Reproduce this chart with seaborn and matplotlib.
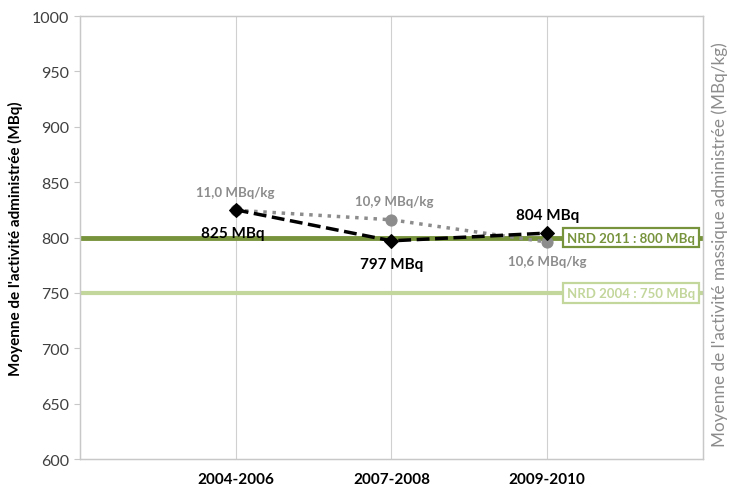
import numpy as np
import pandas as pd
import matplotlib
matplotlib.use("Agg")
import matplotlib.pyplot as plt
import seaborn as sns

# data
PERIODS = ["2004-2006", "2007-2008", "2009-2010"]
ACTIVITY_MBQ = [825, 797, 804]
ACTIVITY_MBQ_KG = [11.03, 10.91, 10.63]
NRD_2011 = 800
NRD_2004 = 750

BLACK = "#000000"
GREY = "#8c8c8c"
GREEN_DARK = "#77933c"
GREEN_LIGHT = "#c3d69b"
AXIS_GREY = "#c8c8c8"
TEXT_GREY = "#404040"

sns.set_style("white")
plt.rcParams["font.family"] = ["Lato", "DejaVu Sans"]

df = pd.DataFrame({
    "pos": np.arange(len(PERIODS)),
    "period": PERIODS,
    "mbq": ACTIVITY_MBQ,
    "mbq_kg": ACTIVITY_MBQ_KG,
})

fig = plt.figure(figsize=(7.31, 4.89), dpi=100)
ax = fig.add_axes([0.1094, 0.0593, 0.8523, 0.9059])
ax2 = ax.twinx()

# vertical gridlines at each period (bottom layer)
for x in df["pos"]:
    ax2.axvline(x, color="#d0d0d0", linewidth=0.8, zorder=0)

# reference levels, drawn under the grey series (in MBq units of the left axis)
ytrans = ax.get_yaxis_transform()
ax2.plot([0, 1], [NRD_2011, NRD_2011], transform=ytrans, color=GREEN_DARK,
         linewidth=3.5, zorder=1)
ax2.plot([0, 1], [NRD_2004, NRD_2004], transform=ytrans, color=GREEN_LIGHT,
         linewidth=3.0, zorder=1)

# secondary series (MBq/kg), no tick labels on the right
sns.lineplot(data=df, x="pos", y="mbq_kg", ax=ax2, color=GREY, linestyle=":",
             linewidth=2.5, marker="o", markersize=8, markeredgecolor=GREY,
             zorder=3)
ax2.set_ylim(7.91, 7.91 + 400 / 72)

# main series (MBq)
sns.lineplot(data=df, x="pos", y="mbq", ax=ax, color=BLACK, linestyle="--",
             linewidth=2.5, marker="D", markersize=7.5, markeredgecolor=BLACK,
             zorder=5)

ax.set_zorder(ax2.get_zorder() + 1)
ax.patch.set_visible(False)

ax.set_xlim(-1, 3)
ax.set_ylim(600, 1000)
ax.set_yticks(range(600, 1001, 50))
ax.set_xticks(df["pos"])
ax.set_xticklabels(PERIODS, fontweight="bold", fontsize=11, color=BLACK)
ax.tick_params(axis="x", length=0, pad=9)
ax.tick_params(axis="y", length=4, width=0.8, color=AXIS_GREY,
               labelsize=11.5, labelcolor=TEXT_GREY, pad=4, left=True)
ax.grid(False)
ax2.grid(False)
for a in (ax, ax2):
    for s in a.spines.values():
        s.set_color(AXIS_GREY)
        s.set_linewidth(0.9)
ax2.set_yticks([])
ax.set_xlabel("")
ax.set_ylabel("Moyenne de l'activité administrée (MBq)", fontweight="bold",
              fontsize=11, color=BLACK, labelpad=6)
ax2.set_ylabel("")
fig.text(0.985, 0.5, "Moyenne de l'activité massique administrée (MBq/kg)",
         rotation=90, ha="center", va="center", fontsize=12.3, color=GREY)

# point labels
mbq_offsets = [(-2, -12, "top"), (0, -12, "top"), (0, 8, "bottom")]
for (x, v), (dx, dy, va) in zip(zip(df["pos"], df["mbq"]), mbq_offsets):
    ax.annotate(f"{v} MBq", (x, v), xytext=(dx, dy), textcoords="offset points",
                ha="center", va=va, fontsize=11, fontweight="bold", color=BLACK)

kg_offsets = [(0, 9, "bottom"), (2, 9, "bottom"), (0, -9, "top")]
for (x, v), (dx, dy, va) in zip(zip(df["pos"], df["mbq_kg"]), kg_offsets):
    txt = f"{v:.1f}".replace(".", ",") + " MBq/kg"
    ax2.annotate(txt, (x, v), xytext=(dx, dy), textcoords="offset points",
                 ha="center", va=va, fontsize=9.5, fontweight="bold", color=GREY)

# NRD boxes
for year, level, col in [(2011, NRD_2011, GREEN_DARK), (2004, NRD_2004, GREEN_LIGHT)]:
    ax.text(2.54, level, f"NRD {year} : {level} MBq",
            ha="center", va="center", fontsize=9.5, fontweight="bold", color=col,
            zorder=6,
            bbox=dict(boxstyle="square,pad=0.3", facecolor="white",
                      edgecolor=col, linewidth=1.6))

fig.savefig("out.png", dpi=100)
